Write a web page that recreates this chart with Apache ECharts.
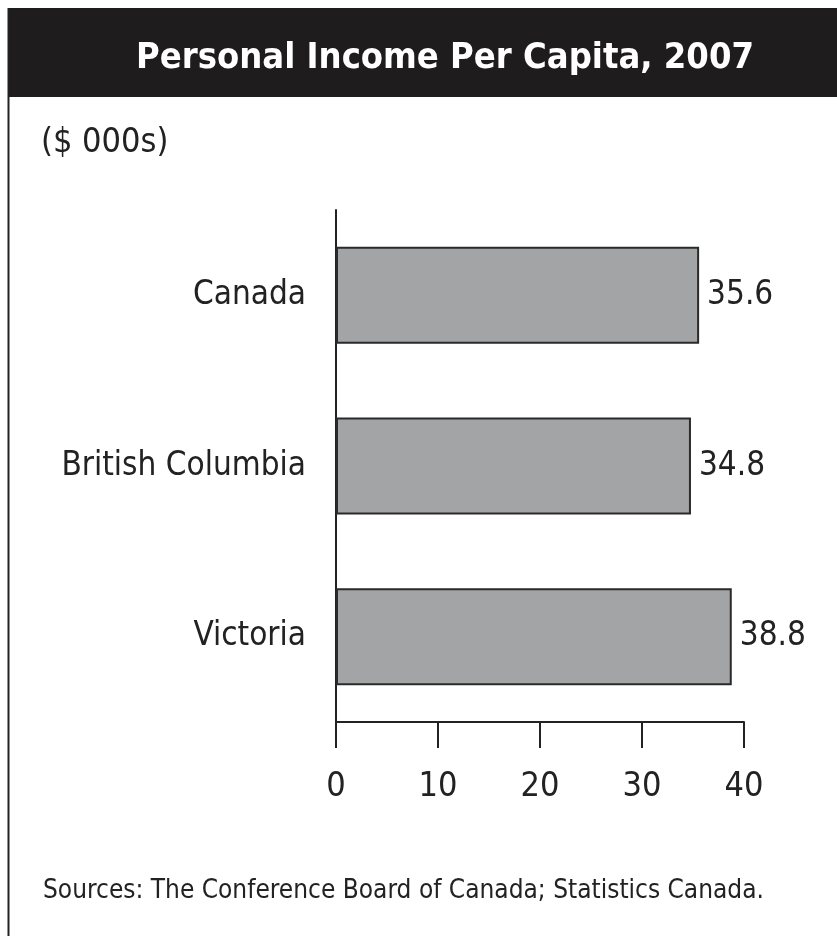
<!DOCTYPE html>
<html>
<head>
<meta charset="utf-8">
<script src="https://cdn.jsdelivr.net/npm/echarts@6/dist/echarts.min.js"></script>
<style>
  html, body { margin: 0; padding: 0; background: #fff; }
  #chart { width: 837px; height: 936px; }
</style>
</head>
<body>
<div id="chart"></div>
<script>
// data
var regions = ['Canada', 'British Columbia', 'Victoria'];
var income = [35.6, 34.8, 38.8];
var tickValues = [0, 10, 20, 30, 40];

var FONT = "'Liberation Sans Narrow', 'DejaVu Sans Condensed', 'Arial Narrow', sans-serif";

var myChart = echarts.init(document.getElementById('chart'));

var option = {
    backgroundColor: '#fff',
    animation: false,
    title: [
        {
            text: 'Personal Income Per Capita, 2007',
            left: 440, top: 36, textAlign: 'center',
            textStyle: { color: '#fff', fontSize: 36, fontWeight: 'bold', fontFamily: FONT }
        },
        {
            text: '($ 000s)',
            left: 36, top: 121,
            textStyle: { color: '#222', fontSize: 34, fontWeight: 'normal', fontFamily: FONT }
        },
        {
            text: 'Sources: The Conference Board of Canada; Statistics Canada.',
            left: 38, top: 873,
            textStyle: { color: '#222', fontSize: 26, fontWeight: 'normal', fontFamily: FONT }
        }
    ],
    graphic: [
        // black title band
        { type: 'rect', shape: { x: 8, y: 8, width: 829, height: 89 }, style: { fill: '#1e1c1d' }, z: -1 },
        // left frame line
        { type: 'line', shape: { x1: 8.5, y1: 8, x2: 8.5, y2: 936 }, style: { stroke: '#222', lineWidth: 2 } }
    ],
    grid: { left: 336, top: 210, width: 408, height: 512 },
    xAxis: {
        type: 'value',
        min: 0, max: 40, interval: 10,
        axisLine: { show: true, lineStyle: { color: '#222', width: 2 } },
        axisTick: { show: true, length: 26, lineStyle: { color: '#222', width: 2 } },
        splitLine: { show: false },
        axisLabel: {
            color: '#222', fontSize: 34, fontFamily: FONT, margin: 48,
            formatter: function (v) { return tickValues.indexOf(v) >= 0 ? String(v) : ''; }
        }
    },
    yAxis: {
        type: 'category',
        data: regions,
        inverse: true,
        axisLine: { show: true, lineStyle: { color: '#222', width: 2 } },
        axisTick: { show: false },
        axisLabel: { color: '#222', fontSize: 33, fontFamily: FONT, margin: 30, padding: [14, 0, 0, 0] }
    },
    series: [{
        type: 'bar',
        data: income,
        barWidth: 97,
        itemStyle: { color: '#a3a4a6', borderColor: '#2a2a2a', borderWidth: 2 },
        label: {
            show: true, position: 'right', distance: 8,
            color: '#222', fontSize: 33, fontFamily: FONT,
            padding: [6, 0, 0, 0],
            formatter: function (p) { return p.value.toFixed(1); }
        }
    }]
};

myChart.setOption(option);
</script>
</body>
</html>
